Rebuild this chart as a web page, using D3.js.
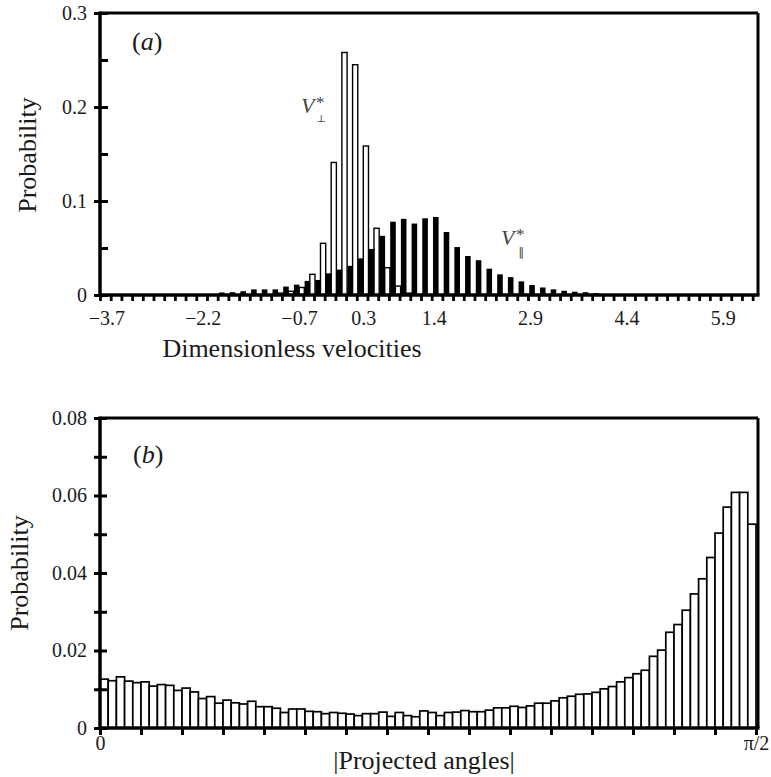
<!DOCTYPE html>
<html>
<head>
<meta charset="utf-8">
<script src="https://cdn.jsdelivr.net/npm/d3@7"></script>
<style>
  body { margin: 0; background: #fff; }
  svg { display: block; }
</style>
</head>
<body>
<script>
const WIDTH = 771;
const HEIGHT = 777;
const SERIF = '"Liberation Serif", "Times New Roman", serif';

// ---- panel (a): dimensionless velocities ----
const velBinStart = -3.8;
const velBinWidth = 1 / 6;
// V_perp* (open bars), one per bin
const perpProb = [0, 0, 0, 0, 0, 0, 0, 0, 0, 0,
    0, 0, 0, 0, 0, 0, 0, 0.002, 0.004, 0.008,
    0.022, 0.055, 0.141, 0.258, 0.245, 0.1585, 0.071, 0.029, 0.0095, 0.002,
    0, 0, 0, 0, 0, 0, 0, 0, 0, 0,
    0, 0, 0, 0, 0, 0, 0, 0, 0, 0,
    0, 0, 0, 0, 0, 0, 0, 0, 0, 0,
    0, 0];
// V_par* (filled bars)
const parProb = [0, 0, 0, 0, 0, 0, 0, 0, 0, 0,
    0.001, 0.0027, 0.003, 0.004, 0.006, 0.006, 0.006, 0.009, 0.011, 0.015,
    0.016, 0.023, 0.027, 0.031, 0.039, 0.049, 0.063, 0.078, 0.081, 0.076,
    0.0816, 0.083, 0.067, 0.051, 0.0415, 0.037, 0.028, 0.022, 0.019, 0.0145,
    0.0106, 0.008, 0.006, 0.0045, 0.0035, 0.003, 0.002, 0.001, 0, 0,
    0, 0, 0, 0, 0, 0, 0, 0, 0, 0,
    0, 0];
const velTicks = [-3.7, -2.2, -0.7, 0.3, 1.4, 2.9, 4.4, 5.9];
const probTicksA = [0, 0.1, 0.2, 0.3];
const probMinorA = [0.05, 0.15, 0.25];

// ---- panel (b): projected angles ----
const angleProb = [0.0126, 0.0122, 0.0132, 0.0121, 0.0117, 0.0119, 0.0108, 0.0112, 0.011, 0.0097,
    0.0103, 0.0093, 0.0076, 0.0081, 0.0064, 0.0072, 0.0065, 0.0062, 0.0069, 0.0055,
    0.0055, 0.0051, 0.004, 0.0049, 0.0049, 0.0043, 0.0042, 0.0037, 0.004, 0.0038,
    0.0036, 0.0032, 0.0037, 0.0037, 0.0041, 0.003, 0.004, 0.0032, 0.0029, 0.0044,
    0.004, 0.0032, 0.004, 0.0041, 0.0045, 0.0042, 0.0042, 0.0046, 0.0052, 0.0052,
    0.0056, 0.0053, 0.0057, 0.0064, 0.0064, 0.007, 0.0078, 0.0082, 0.0087, 0.0088,
    0.0092, 0.0101, 0.0107, 0.0119, 0.013, 0.014, 0.0149, 0.0185, 0.0201, 0.0247,
    0.0267, 0.0304, 0.0346, 0.0385, 0.044, 0.0503, 0.057, 0.0608, 0.0608, 0.0526];
const probTicksB = [0, 0.02, 0.04, 0.06, 0.08];
const probMinorB = [0.01, 0.03, 0.05, 0.07];
const angleTickCount = 16;          // ticks every pi/32
const angleTickLabels = ['0', 'π/2'];

var svg = d3.select('body').append('svg')
    .attr('width', WIDTH)
    .attr('height', HEIGHT);

var A = {left: 100, right: 758, top: 13, bottom: 295};
var B = {left: 100, right: 758, top: 418, bottom: 728};

var xA = d3.scaleLinear().domain([-3.8, 6.45]).range([A.left, A.right]);
var yA = d3.scaleLinear().domain([0, 0.3]).range([A.bottom, A.top]);
var xB = d3.scaleLinear().domain([0, Math.PI / 2]).range([B.left, 756]);
var yB = d3.scaleLinear().domain([0, 0.08]).range([B.bottom, B.top]);

var velBins = perpProb.map(function (d, k) { return velBinStart + k * velBinWidth; });
var angleBinWidth = (Math.PI / 2) / angleProb.length;

var probFormat = function (d) { return d === 0 ? '0' : String(d); };
var velFormat = function (d) { return d < 0 ? '\u2212' + Math.abs(d) : String(d); };

function styleAxis(g, size) {
    g.select('.domain').remove();
    g.attr('font-family', SERIF).attr('font-size', size);
    g.selectAll('line').attr('stroke', '#000').attr('stroke-width', 3);
    g.selectAll('text').attr('fill', '#1a1a1a');
}

// ---------- panel (a) bars ----------
var barsA = svg.append('g');
barsA.selectAll('rect.perp')
    .data(velBins.map(function (v, k) { return {v: v, p: perpProb[k]}; }).filter(function (d) { return d.p > 0; }))
    .enter().append('rect')
    .attr('class', 'perp')
    .attr('x', function (d) { return xA(d.v) - 4.2; })
    .attr('y', function (d) { return yA(d.p); })
    .attr('width', 5.2)
    .attr('height', function (d) { return yA(0) - yA(d.p); })
    .attr('fill', '#fff')
    .attr('stroke', '#000')
    .attr('stroke-width', 1.4);

barsA.selectAll('rect.par')
    .data(velBins.map(function (v, k) { return {v: v, p: parProb[k]}; }).filter(function (d) { return d.p > 0; }))
    .enter().append('rect')
    .attr('class', 'par')
    .attr('x', function (d) { return xA(d.v) + 1.3; })
    .attr('y', function (d) { return yA(d.p); })
    .attr('width', 5.6)
    .attr('height', function (d) { return yA(0) - yA(d.p); })
    .attr('fill', '#000');

// ---------- panel (b) bars ----------
svg.append('g').selectAll('rect')
    .data(angleProb)
    .enter().append('rect')
    .attr('x', function (d, i) { return xB(i * angleBinWidth); })
    .attr('y', function (d) { return yB(d); })
    .attr('width', xB(angleBinWidth) - xB(0))
    .attr('height', function (d) { return yB(0) - yB(d); })
    .attr('fill', '#fff')
    .attr('stroke', '#000')
    .attr('stroke-width', 1.7);

// ---------- axes (a) ----------
svg.append('g')
    .attr('transform', 'translate(' + A.left + ',0)')
    .call(d3.axisLeft(yA).tickValues(probTicksA).tickSize(6).tickPadding(7).tickFormat(probFormat))
    .call(styleAxis, 20);
svg.append('g')
    .attr('transform', 'translate(' + A.left + ',0)')
    .call(d3.axisRight(yA).tickValues(probTicksA.concat(probMinorA)).tickSize(8).tickFormat(''))
    .call(styleAxis, 20);
svg.append('g')
    .attr('transform', 'translate(0,' + A.bottom + ')')
    .call(d3.axisBottom(xA).tickValues(velBins).tickSize(6).tickFormat(''))
    .call(styleAxis, 20)
    .selectAll('line').attr('stroke-width', 2.8);
svg.append('g')
    .attr('transform', 'translate(0,' + A.bottom + ')')
    .call(d3.axisBottom(xA).tickValues(velTicks).tickSize(0).tickPadding(16).tickFormat(velFormat))
    .call(styleAxis, 20);

// ---------- axes (b) ----------
svg.append('g')
    .attr('transform', 'translate(' + B.left + ',0)')
    .call(d3.axisLeft(yB).tickValues(probTicksB.concat(probMinorB)).tickSize(6).tickPadding(7)
        .tickFormat(function (d) { return probTicksB.indexOf(d) >= 0 ? probFormat(d) : ''; }))
    .call(styleAxis, 20);
svg.append('g')
    .attr('transform', 'translate(' + B.left + ',0)')
    .call(d3.axisRight(yB).tickValues(probTicksB.concat(probMinorB)).tickSize(7).tickFormat(''))
    .call(styleAxis, 20);
svg.append('g')
    .attr('transform', 'translate(0,' + B.bottom + ')')
    .call(d3.axisBottom(xB).tickValues(d3.range(angleTickCount + 1).map(function (i) { return i * Math.PI / 2 / angleTickCount; }))
        .tickSize(7).tickFormat(''))
    .call(styleAxis, 20);
svg.append('g')
    .attr('transform', 'translate(0,' + B.bottom + ')')
    .call(d3.axisBottom(xB).tickValues([0, Math.PI / 2]).tickSize(0).tickPadding(8)
        .tickFormat(function (d, i) { return angleTickLabels[i]; }))
    .call(styleAxis, 20);

// ---------- frames ----------
[A, B].forEach(function (r) {
    var f = svg.append('g').attr('stroke', '#000').attr('fill', 'none');
    f.append('line').attr('x1', r.left).attr('x2', r.right).attr('y1', r.top).attr('y2', r.top).attr('stroke-width', 3);
    f.append('line').attr('x1', r.right).attr('x2', r.right).attr('y1', r.top).attr('y2', r.bottom).attr('stroke-width', 3);
    f.append('line').attr('x1', r.left).attr('x2', r.left).attr('y1', r.top - 1.5).attr('y2', r.bottom + 1.5).attr('stroke-width', 3.5);
    f.append('line').attr('x1', r.left).attr('x2', r.right + 1.5).attr('y1', r.bottom).attr('y2', r.bottom).attr('stroke-width', 3.5);
});

// ---------- titles ----------
var txt = svg.append('g').attr('font-family', SERIF).attr('fill', '#1a1a1a');

txt.append('text')
    .attr('transform', 'translate(36,155) rotate(-90)')
    .attr('text-anchor', 'middle').attr('font-size', 26)
    .text('Probability');
txt.append('text')
    .attr('transform', 'translate(28,573) rotate(-90)')
    .attr('text-anchor', 'middle').attr('font-size', 26)
    .text('Probability');
txt.append('text')
    .attr('x', 292).attr('y', 357)
    .attr('text-anchor', 'middle').attr('font-size', 26)
    .text('Dimensionless velocities');
txt.append('text')
    .attr('x', 424).attr('y', 769)
    .attr('text-anchor', 'middle').attr('font-size', 26)
    .text('|Projected angles|');

var pa = txt.append('text').attr('x', 132).attr('y', 50).attr('font-size', 26);
pa.append('tspan').text('(');
pa.append('tspan').attr('font-style', 'italic').text('a');
pa.append('tspan').text(')');
var pb = txt.append('text').attr('x', 133).attr('y', 463).attr('font-size', 26);
pb.append('tspan').text('(');
pb.append('tspan').attr('font-style', 'italic').text('b');
pb.append('tspan').text(')');

// V annotations (star above, symbol below, kept apart vertically)
// opacity just under 1 keeps the small glyphs in greyscale antialiasing
var ann = svg.append('g').attr('font-family', SERIF).attr('fill', '#444').attr('opacity', 0.999);
ann.append('text').attr('x', 301).attr('y', 113).attr('font-size', 22).attr('font-style', 'italic').text('V');
ann.append('text').attr('x', 316).attr('y', 108).attr('font-size', 17).text('*');
ann.append('text').attr('x', 316.5).attr('y', 122).attr('font-size', 10)
    .attr('font-family', '"DejaVu Serif", serif').text('\u22A5');
ann.append('text').attr('x', 501).attr('y', 245).attr('font-size', 22).attr('font-style', 'italic').text('V');
ann.append('text').attr('x', 516).attr('y', 240).attr('font-size', 17).text('*');
ann.append('text').attr('x', 518).attr('y', 256).attr('font-size', 12)
    .attr('font-family', '"DejaVu Sans", sans-serif').text('\u2225');
</script>
</body>
</html>
